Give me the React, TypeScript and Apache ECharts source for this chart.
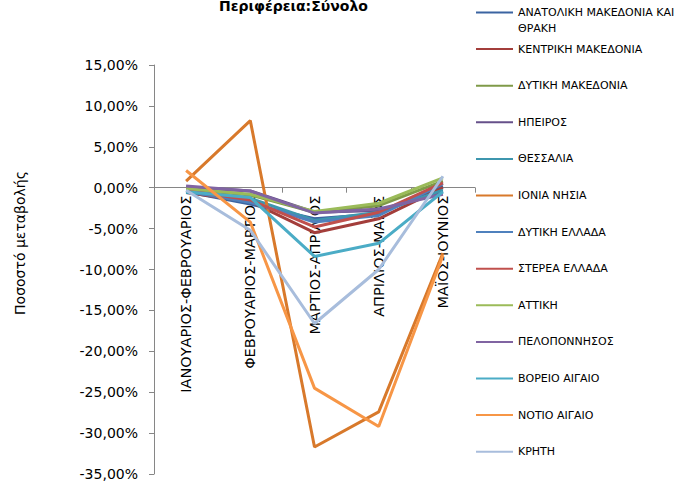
import React, { useEffect, useRef } from "react";
import * as echarts from "echarts";

const titleText = "Περιφέρεια:Σύνολο";
const yAxisName = "Ποσοστό μεταβολής";
const categories = [
  "ΙΑΝΟΥΑΡΙΟΣ-ΦΕΒΡΟΥΑΡΙΟΣ",
  "ΦΕΒΡΟΥΑΡΙΟΣ-ΜΑΡΤΙΟΣ",
  "ΜΑΡΤΙΟΣ-ΑΠΡΙΛΙΟΣ",
  "ΑΠΡΙΛΙΟΣ-ΜΑΪΟΣ",
  "ΜΑΪΟΣ-ΙΟΥΝΙΟΣ",
];
const seriesNames = [
  "ΑΝΑΤΟΛΙΚΗ ΜΑΚΕΔΟΝΙΑ ΚΑΙ ΘΡΑΚΗ",
  "ΚΕΝΤΡΙΚΗ ΜΑΚΕΔΟΝΙΑ",
  "ΔΥΤΙΚΗ ΜΑΚΕΔΟΝΙΑ",
  "ΗΠΕΙΡΟΣ",
  "ΘΕΣΣΑΛΙΑ",
  "ΙΟΝΙΑ ΝΗΣΙΑ",
  "ΔΥΤΙΚΗ ΕΛΛΑΔΑ",
  "ΣΤΕΡΕΑ ΕΛΛΑΔΑ",
  "ΑΤΤΙΚΗ",
  "ΠΕΛΟΠΟΝΝΗΣΟΣ",
  "ΒΟΡΕΙΟ ΑΙΓΑΙΟ",
  "ΝΟΤΙΟ ΑΙΓΑΙΟ",
  "ΚΡΗΤΗ",
];
const anatMakThraki = [-0.5, -2.0, -3.8, -3.2, 0.2];
const kentrikiMak = [-0.6, -1.7, -5.5, -3.8, 0.0];
const dytikiMak = [-0.2, -0.9, -3.0, -2.2, 0.8];
const ipeiros = [0.1, -0.4, -3.0, -2.8, -0.5];
const thessalia = [-0.6, -1.3, -4.0, -3.0, -0.3];
const ioniaNisia = [0.8, 8.2, -31.7, -27.4, -8.0];
const dytikiEllada = [-0.4, -1.8, -4.2, -3.4, 0.5];
const stereaEllada = [-0.3, -1.5, -4.8, -3.0, 0.6];
const attiki = [-0.1, -0.8, -2.9, -1.9, 1.2];
const peloponnisos = [0.2, -0.4, -3.1, -2.6, -0.8];
const voreioAigaio = [-0.5, -1.2, -8.4, -6.8, -0.5];
const notioAigaio = [2.1, -4.2, -24.5, -29.2, -8.3];
const kriti = [-0.3, -5.2, -16.6, -10.0, 1.4];
const seriesValues = [
  anatMakThraki, kentrikiMak, dytikiMak, ipeiros, thessalia, ioniaNisia,
  dytikiEllada, stereaEllada, attiki, peloponnisos, voreioAigaio, notioAigaio, kriti,
];
const colors = [
  "#3B64A1", "#A33E3B", "#7F9A48", "#66508A", "#3D96AE", "#D8792B",
  "#4F81BD", "#C0504D", "#9BBB59", "#8064A2", "#4BACC6", "#F79646", "#A8BDDC",
];
const yMin = -35;
const yMax = 15;
const yStep = 5;

const GRID_TOP = 65;
const GRID_BOTTOM = 11;
const CHART_H = 485;

export default function App() {
  const ref = useRef<HTMLDivElement>(null);
  useEffect(() => {
    if (!ref.current) return;
    const chart = echarts.init(ref.current, null, { renderer: "svg" });
    const gridH = CHART_H - GRID_TOP - GRID_BOTTOM;
    const zeroOffset = -((0 - yMin) / (yMax - yMin)) * gridH;
    const legends = seriesNames.map((name, i) => {
      const center = 12.5 + i * 36.6;
      const first = i === 0;
      return {
        data: [name],
        left: 476,
        top: first ? center - 24 : center - 7,
        padding: 0,
        icon: "rect",
        itemWidth: 37,
        itemHeight: 2,
        selectedMode: false,
        formatter: first ? () => " \nΑΝΑΤΟΛΙΚΗ ΜΑΚΕΔΟΝΙΑ ΚΑΙ\nΘΡΑΚΗ" : undefined,
        textStyle: {
          fontFamily: "DejaVu Sans",
          fontSize: 11,
          color: "#000",
          lineHeight: first ? 16 : 14,
        },
      };
    });
    chart.setOption({
      animation: false,
      color: colors,
      title: {
        text: titleText,
        left: 214,
        top: -6,
        textStyle: { fontFamily: "DejaVu Sans", fontSize: 14, fontWeight: "bold", color: "#000" },
      },
      legend: legends,
      grid: {
        left: 154,
        top: GRID_TOP,
        right: 218,
        bottom: GRID_BOTTOM,
        containLabel: false,
        outerBoundsMode: "none",
      },
      xAxis: {
        type: "category",
        data: categories,
        boundaryGap: true,
        position: "bottom",
        offset: zeroOffset,
        z: 0,
        axisLine: { onZero: false, lineStyle: { color: "#868686", width: 1 } },
        axisTick: { show: true, length: 5, inside: false, lineStyle: { color: "#868686" } },
        axisLabel: {
          rotate: 90,
          margin: 8,
          interval: 0,
          fontFamily: "DejaVu Sans",
          fontSize: 14.5,
          color: "#000",
        },
        splitLine: { show: false },
      },
      yAxis: {
        type: "value",
        min: yMin,
        max: yMax,
        interval: yStep,
        z: 0,
        axisLine: { show: true, lineStyle: { color: "#868686", width: 1 } },
        axisTick: { show: true, length: 5, inside: false, lineStyle: { color: "#868686" } },
        axisLabel: {
          margin: 16,
          fontFamily: "DejaVu Sans",
          fontSize: 14,
          color: "#000",
          formatter: (v: number) => v.toFixed(2).replace(".", ",") + "%",
        },
        splitLine: { show: false },
      },
      graphic: [
        {
          type: "text",
          x: 20,
          y: 243,
          rotation: Math.PI / 2,
          style: {
            text: yAxisName,
            fontFamily: "DejaVu Sans",
            fontSize: 14,
            fill: "#000",
            textAlign: "center",
            textVerticalAlign: "middle",
          },
        },
      ],
      series: seriesNames.map((name, i) => ({
        name,
        type: "line",
        data: seriesValues[i],
        symbol: "none",
        z: 5,
        lineStyle: { width: 3, color: colors[i] },
        itemStyle: { color: colors[i] },
      })),
    });
    return () => chart.dispose();
  }, []);
  return (
    <div
      ref={ref}
      style={{ position: "fixed", left: 0, top: 0, width: 693, height: 485, background: "#fff" }}
    />
  );
}
